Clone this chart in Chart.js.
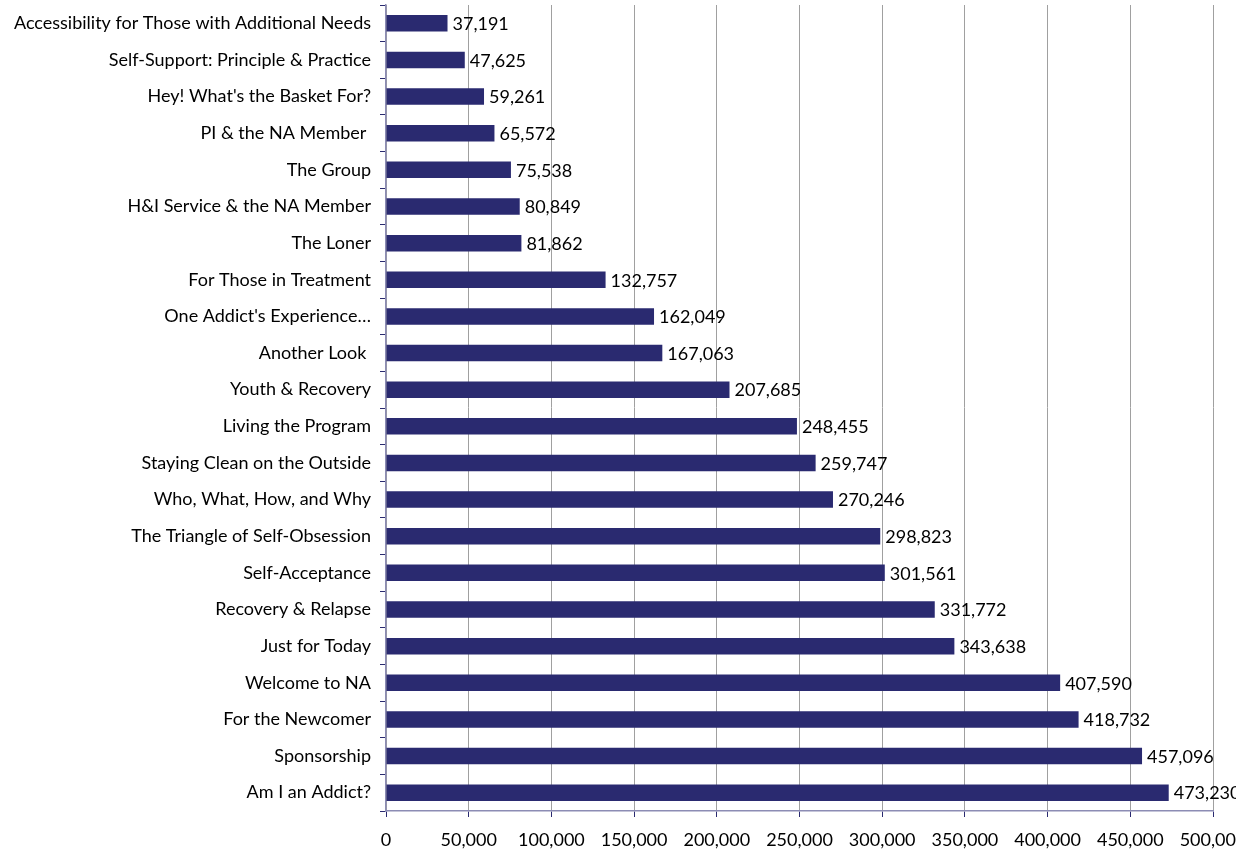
<!DOCTYPE html>
<html>
<head>
<meta charset="utf-8">
<script src="https://cdn.jsdelivr.net/npm/chart.js@4/dist/chart.umd.min.js"></script>
<style>
  html, body { margin: 0; padding: 0; background: #fff; overflow: hidden; }
  #wrap { width: 1236px; height: 852px; overflow: hidden; }
</style>
</head>
<body>
<div id="wrap"><canvas id="booksChart" width="1290" height="852"></canvas></div>
<script>
const titles = [
    "Accessibility for Those with Additional Needs",
    "Self-Support: Principle & Practice",
    "Hey! What's the Basket For?",
    "PI & the NA Member ",
    "The Group",
    "H&I Service & the NA Member",
    "The Loner",
    "For Those in Treatment",
    "One Addict's Experience…",
    "Another Look ",
    "Youth & Recovery",
    "Living the Program",
    "Staying Clean on the Outside",
    "Who, What, How, and Why",
    "The Triangle of Self-Obsession",
    "Self-Acceptance",
    "Recovery & Relapse",
    "Just for Today",
    "Welcome to NA",
    "For the Newcomer",
    "Sponsorship",
    "Am I an Addict?"
];
const copies = [
    37191, 47625, 59261, 65572, 75538, 80849, 81862, 132757, 162049, 167063, 207685,
    248455, 259747, 270246, 298823, 301561, 331772, 343638, 407590, 418732, 457096, 473230
];
const axisMax = 500000;
const axisStep = 50000;

const FONT = "Lato, 'Open Sans', sans-serif";
const FONT_SIZE = 18;
const navy = "#2a2a70";

// value labels at the end of each bar
const barLabels = {
    id: "barLabels",
    afterDatasetsDraw(chart) {
        const ctx = chart.ctx;
        const meta = chart.getDatasetMeta(0);
        ctx.save();
        ctx.font = FONT_SIZE + "px " + FONT;
        ctx.fillStyle = "#000";
        ctx.textAlign = "left";
        ctx.textBaseline = "middle";
        meta.data.forEach(function (bar, i) {
            ctx.fillText(copies[i].toLocaleString("en-US"), bar.x + 5, bar.y + 1);
        });
        ctx.restore();
    }
};

const canvas = document.getElementById("booksChart");

new Chart(canvas, {
    type: "bar",
    data: {
        labels: titles,
        datasets: [{
            data: copies,
            backgroundColor: navy,
            borderWidth: 0,
            barPercentage: 0.45,
            categoryPercentage: 1
        }]
    },
    options: {
        indexAxis: "y",
        responsive: false,
        animation: false,
        layout: { padding: { top: 5, left: 0, right: 77, bottom: 0 } },
        plugins: {
            legend: { display: false },
            tooltip: { enabled: false }
        },
        scales: {
            x: {
                min: 0,
                max: axisMax,
                afterFit: function (scale) {
                    scale.height = 41;
                    scale.paddingLeft = 0;
                    scale.paddingRight = 0;
                },
                ticks: {
                    stepSize: axisStep,
                    padding: 12,
                    color: "#000",
                    font: { family: FONT, size: FONT_SIZE },
                    maxRotation: 0,
                    callback: function (v) { return v.toLocaleString("en-US"); }
                },
                grid: {
                    color: "#a0a0a0",
                    lineWidth: 1,
                    tickColor: navy,
                    tickLength: 6
                },
                border: { color: "#8c8cb4", width: 1.5 }
            },
            y: {
                afterFit: function (scale) {
                    scale.width = 386;
                    scale.paddingTop = 0;
                    scale.paddingBottom = 0;
                },
                ticks: {
                    padding: 9,
                    color: "#000",
                    font: { family: FONT, size: FONT_SIZE },
                    autoSkip: false
                },
                grid: {
                    offset: true,
                    drawOnChartArea: false,
                    tickColor: navy,
                    tickLength: 6
                },
                border: { color: "#8c8cb4", width: 1.5 }
            }
        }
    },
    plugins: [barLabels]
});
</script>
</body>
</html>
